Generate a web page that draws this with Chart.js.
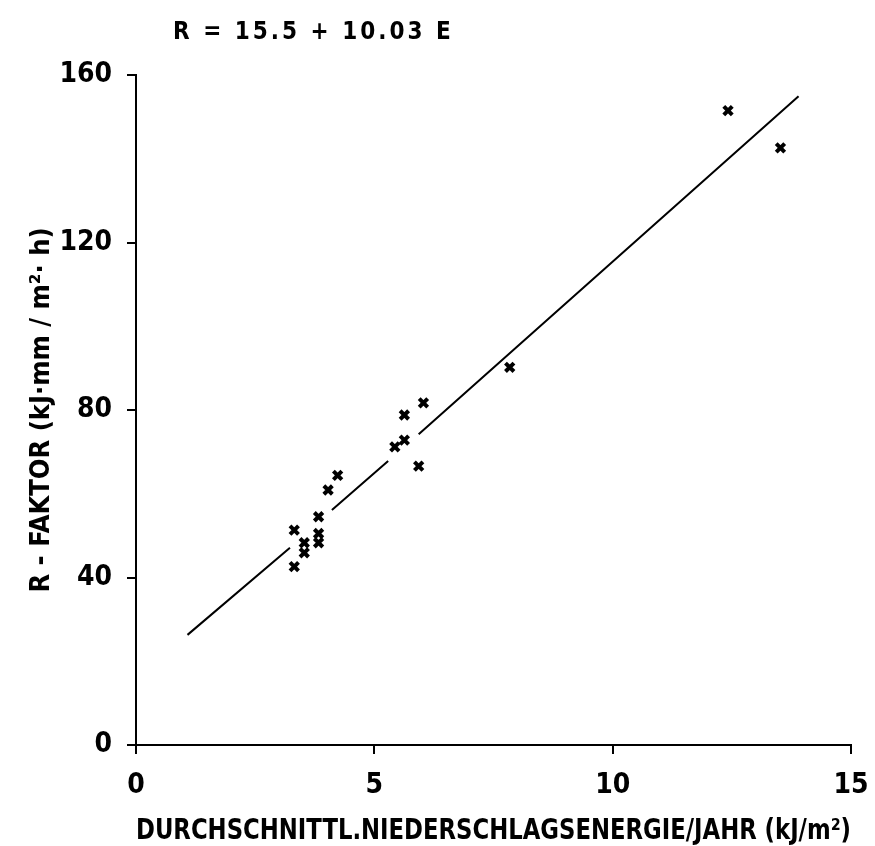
<!DOCTYPE html>
<html>
<head>
<meta charset="utf-8">
<script src="https://cdn.jsdelivr.net/npm/chart.js@4.4.0/dist/chart.umd.min.js"></script>
<style>
  html, body { margin: 0; padding: 0; background: #fff; }
  #wrap { width: 875px; height: 846px; }
</style>
</head>
<body>
<div id="wrap"><canvas id="chart"></canvas></div>
<script>
// Measured points (E, R)
var energyValues = [3.32, 3.53, 3.53, 3.32, 3.83, 3.83, 3.83, 4.03, 4.23, 5.43, 5.63, 5.63, 6.03, 5.93, 7.84, 12.42, 13.52];
var rFactorValues = [51.3, 48.3, 45.9, 42.6, 54.5, 50.5, 48.3, 60.9, 64.4, 71.2, 72.8, 78.8, 81.7, 66.6, 90.2, 151.5, 142.6];

// Regression line as drawn (broken where it passes the crosses)
var lineE = [1.08, 3.23, 3.6, 4.11, 5.29, 5.6, 5.93, 13.9];
var lineR = [26.3, 47.1, null, 56.1, 67.8, null, 74.2, 154.9];

// Axis ticks
var xTicks = [0, 5, 10, 15];
var yTicks = [0, 40, 80, 120, 160];

var equationText = 'R = 15.5 + 10.03 E';
var xTitle = 'DURCHSCHNITTL.NIEDERSCHLAGSENERGIE/JAHR (kJ/m\u00B2)';
var yTitle = 'R - FAKTOR (kJ\u00B7mm / m\u00B2\u00B7 h)';

var fontName = '"DejaVu Sans Condensed", "DejaVu Sans", sans-serif';

var points = [];
for (var i = 0; i < energyValues.length; i++) {
    points.push({ x: energyValues[i], y: rFactorValues[i] });
}
var linePoints = [];
for (var j = 0; j < lineE.length; j++) {
    linePoints.push({ x: lineE[j], y: lineR[j] });
}

// Draw the regression equation above the plot
var equationPlugin = {
    id: 'equation',
    afterDraw: function(chart) {
        var ctx = chart.ctx;
        ctx.save();
        ctx.fillStyle = '#000';
        ctx.font = 'bold 24px ' + fontName;
        ctx.letterSpacing = '3px';
        ctx.textBaseline = 'alphabetic';
        ctx.textAlign = 'left';
        ctx.fillText(equationText, chart.chartArea.left + 37, 39);
        ctx.restore();
    }
};

var ctx = document.getElementById('chart').getContext('2d');
window.scatterChart = new Chart(ctx, {
    type: 'scatter',
    data: {
        datasets: [
            {
                type: 'line',
                data: linePoints,
                borderColor: '#000',
                borderWidth: 2,
                pointRadius: 0,
                spanGaps: false,
                fill: false
            },
            {
                data: points,
                pointStyle: 'crossRot',
                pointRadius: 6,
                borderColor: '#000',
                borderWidth: 4,
                backgroundColor: '#000'
            }
        ]
    },
    options: {
        responsive: true,
        maintainAspectRatio: false,
        animation: false,
        layout: { padding: { top: 75, right: 24, left: 0, bottom: 0 } },
        plugins: {
            legend: { display: false },
            tooltip: { enabled: false }
        },
        scales: {
            x: {
                type: 'linear',
                min: 0,
                max: 15,
                afterBuildTicks: function(scale) {
                    scale.ticks = xTicks.map(function(v) { return { value: v }; });
                },
                afterFit: function(scale) {
                    scale.height = 101;
                    scale.paddingLeft = 0;
                    scale.paddingRight = 0;
                },
                border: { color: '#000', width: 2 },
                grid: { drawOnChartArea: false, color: '#000', lineWidth: 2, tickLength: 9 },
                ticks: { color: '#000', padding: 15, font: { family: fontName, size: 28, weight: 'bold' } },
                title: {
                    display: true,
                    text: xTitle,
                    color: '#000',
                    padding: { top: 0, bottom: -3 },
                    font: { family: fontName, size: 28, weight: 'bold' }
                }
            },
            y: {
                type: 'linear',
                min: 0,
                max: 160,
                afterBuildTicks: function(scale) {
                    scale.ticks = yTicks.map(function(v) { return { value: v }; });
                },
                afterFit: function(scale) {
                    scale.width = 136;
                    scale.paddingTop = 0;
                    scale.paddingBottom = 0;
                },
                border: { color: '#000', width: 2 },
                grid: { drawOnChartArea: false, color: '#000', lineWidth: 2, tickLength: 9 },
                ticks: { color: '#000', padding: 15, font: { family: fontName, size: 28, weight: 'bold' } },
                title: {
                    display: true,
                    text: yTitle,
                    color: '#000',
                    padding: { top: 26, bottom: 0 },
                    font: { family: fontName, size: 27, weight: 'bold' }
                }
            }
        }
    },
    plugins: [equationPlugin]
});
</script>
</body>
</html>
